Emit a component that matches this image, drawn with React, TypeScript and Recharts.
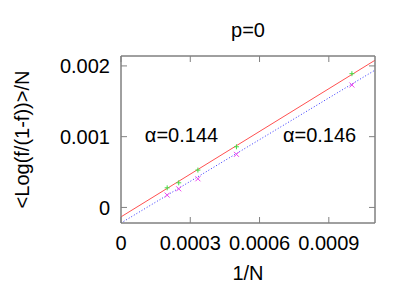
import { ComposedChart, Line, Scatter, XAxis, YAxis, Label, ReferenceArea } from 'recharts';

// 1/N for N = 5000, 4000, 3000, 2000, 1000
const invN = [0.0002, 0.00025, 0.000333, 0.0005, 0.001];
const greenVals = [0.000277, 0.000348, 0.000528, 0.000857, 0.00189];
const magentaVals = [0.000174, 0.000263, 0.000405, 0.00075, 0.00173];

// fitted straight lines, evaluated at the ends of the x range
const fitX = [0, 0.0011];
const fitRed = [-0.000133, 0.00208];
const fitBlue = [-0.00022, 0.00194];

const xTicks = [0, 0.0003, 0.0006, 0.0009];
const yTicks = [0, 0.001, 0.002];

const notes = [
  { x: 0.000262, y: 0.00093, text: 'α=0.144' },
  { x: 0.00086, y: 0.00093, text: 'α=0.146' },
];

const greenData = invN.map((x, i) => ({ x, y: greenVals[i] }));
const magentaData = invN.map((x, i) => ({ x, y: magentaVals[i] }));
const redLine = fitX.map((x, i) => ({ x, y: fitRed[i] }));
const blueLine = fitX.map((x, i) => ({ x, y: fitBlue[i] }));

const FONT = '"Liberation Sans", Arial, sans-serif';
const FRAME = '#808080';
const tickStyle = { fontSize: 20, fill: '#000', fontFamily: FONT };
const labelStyle = { fontSize: 20, fill: '#000', fontFamily: FONT };

const Plus = (props: any) => {
  const { cx, cy } = props;
  return (
    <path d={`M${cx - 2.5},${cy}H${cx + 2.5}M${cx},${cy - 2.5}V${cy + 2.5}`} stroke="#44dd44" strokeWidth={1} />
  );
};

const Cross = (props: any) => {
  const { cx, cy } = props;
  return (
    <path
      d={`M${cx - 2.5},${cy - 2.5}L${cx + 2.5},${cy + 2.5}M${cx - 2.5},${cy + 2.5}L${cx + 2.5},${cy - 2.5}`}
      stroke="#ee44ee"
      strokeWidth={1}
    />
  );
};

const Note = (props: any) => {
  const { cx, cy, payload } = props;
  return (
    <text x={cx} y={cy} textAnchor="middle" fontSize={20} fontFamily={FONT} fill="#000">
      {payload.text}
    </text>
  );
};

const blank = () => '';

export default function App() {
  const xDomain: [number, number] = [0, 0.0011];
  const yDomain: [number, number] = [-0.00022, 0.00214];
  return (
    <div style={{ position: 'absolute', left: 0, top: 0, background: '#fff' }}>
      <ComposedChart width={411} height={288} margin={{ top: 55, right: 35, bottom: 25, left: 0 }}>
        <XAxis
          xAxisId="b"
          type="number"
          dataKey="x"
          domain={xDomain}
          ticks={xTicks}
          allowDataOverflow
          height={40}
          stroke={FRAME}
          tickSize={-6}
          tickMargin={19}
          tick={tickStyle}
          tickFormatter={(v: number) => String(v)}
        >
          <Label value="1/N" position="bottom" offset={3} style={labelStyle} />
        </XAxis>
        <XAxis
          xAxisId="t"
          orientation="top"
          type="number"
          dataKey="x"
          domain={xDomain}
          ticks={xTicks}
          allowDataOverflow
          height={1}
          stroke={FRAME}
          tickSize={-6}
          tickFormatter={blank}
        >
          <Label value="p=0" position="top" offset={18} style={labelStyle} />
        </XAxis>
        <YAxis
          yAxisId="l"
          type="number"
          domain={yDomain}
          ticks={yTicks}
          allowDataOverflow
          width={121}
          stroke={FRAME}
          tickSize={-6}
          tickMargin={17}
          tick={tickStyle}
          tickFormatter={(v: number) => String(v)}
        >
          <Label
            value="<Log(f/(1-f))>/N"
            angle={-90}
            position="insideLeft"
            offset={22}
            style={{ ...labelStyle, textAnchor: 'middle' }}
          />
        </YAxis>
        <YAxis
          yAxisId="r"
          orientation="right"
          type="number"
          domain={yDomain}
          ticks={yTicks}
          allowDataOverflow
          width={1}
          stroke={FRAME}
          tickSize={-6}
          tickFormatter={blank}
        />
        <ReferenceArea
          xAxisId="b"
          yAxisId="l"
          x1={xDomain[0]}
          x2={xDomain[1]}
          y1={yDomain[0]}
          y2={yDomain[1]}
          fill="none"
          fillOpacity={0}
          stroke={FRAME}
          strokeWidth={1}
        />
        <Line
          xAxisId="b"
          yAxisId="l"
          data={redLine}
          dataKey="y"
          type="linear"
          stroke="#ff5050"
          strokeWidth={1}
          dot={false}
          isAnimationActive={false}
        />
        <Line
          xAxisId="b"
          yAxisId="l"
          data={blueLine}
          dataKey="y"
          type="linear"
          stroke="#3333ff"
          strokeWidth={1}
          strokeDasharray="1 2"
          dot={false}
          isAnimationActive={false}
        />
        <Scatter xAxisId="b" yAxisId="l" data={greenData} dataKey="y" shape={<Plus />} isAnimationActive={false} />
        <Scatter xAxisId="b" yAxisId="l" data={magentaData} dataKey="y" shape={<Cross />} isAnimationActive={false} />
        <Scatter xAxisId="b" yAxisId="l" data={notes} dataKey="y" shape={<Note />} isAnimationActive={false} />
      </ComposedChart>
    </div>
  );
}
